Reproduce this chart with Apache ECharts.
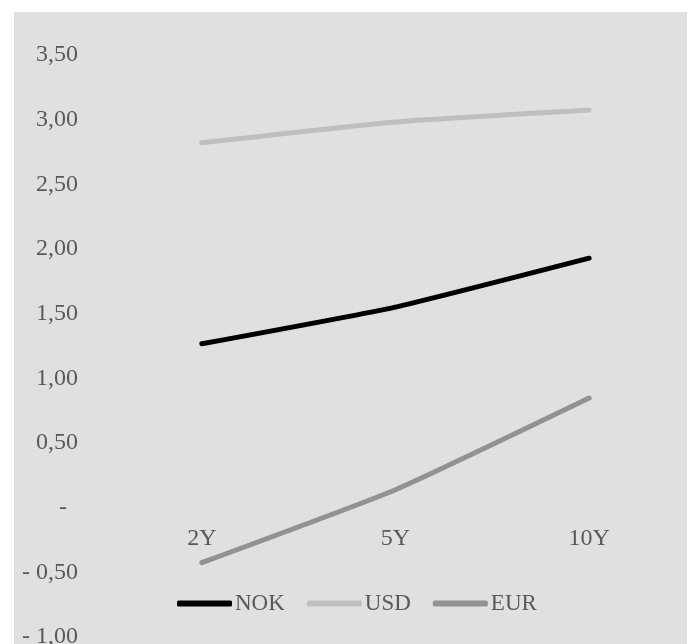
<!DOCTYPE html>
<html>
<head>
<meta charset="utf-8">
<script src="https://cdn.jsdelivr.net/npm/echarts@6/dist/echarts.min.js"></script>
<style>
html,body{margin:0;padding:0;background:#ffffff;}
#chart{width:693px;height:644px;}
</style>
</head>
<body>
<div id="chart"></div>
<script>
const categories = ['2Y', '5Y', '10Y'];
const seriesNames = ['NOK', 'USD', 'EUR'];
const nokValues = [1.267, 1.551, 1.929];
const usdValues = [2.822, 2.982, 3.075];
const eurValues = [-0.425, 0.139, 0.848];
const yTickValues = [-1, -0.5, 0, 0.5, 1, 1.5, 2, 2.5, 3, 3.5];
const yTickLabels = ['- 1,00', '- 0,50', '-', '0,50', '1,00', '1,50', '2,00', '2,50', '3,00', '3,50'];

const FONT = '"Liberation Serif", serif';
const FS = 24;
const TXT = '#595959';
const colors = ['#000000', '#bfbfbf', '#929292'];

const chart = echarts.init(document.getElementById('chart'), null, {renderer: 'canvas'});

function yLabel(v) {
  let idx = -1;
  for (let i = 0; i < yTickValues.length; i++) {
    if (Math.abs(yTickValues[i] - v) < 1e-6) idx = i;
  }
  if (idx < 0) return '';
  if (yTickValues[idx] === 0) return '{z|' + yTickLabels[idx] + '}';
  return yTickLabels[idx];
}

const values = [nokValues, usdValues, eurValues];

chart.setOption({
  animation: false,
  backgroundColor: '#ffffff',
  color: colors,
  graphic: [{
    type: 'rect',
    z: -10,
    silent: true,
    shape: {x: 14, y: 12, width: 673, height: 640},
    style: {fill: '#e0e0e0'}
  }],
  grid: {left: 105, right: 7, top: 55, bottom: 7, containLabel: false, outerBoundsMode: 'none'},
  legend: {
    data: seriesNames,
    left: 172,
    top: 587,
    itemWidth: 55,
    itemHeight: 6,
    itemGap: 22,
    icon: 'roundRect',
    textStyle: {fontFamily: FONT, fontSize: 23, color: TXT, padding: [0, 0, 0, -2]}
  },
  xAxis: {
    type: 'category',
    data: categories,
    boundaryGap: true,
    position: 'bottom',
    offset: 0,
    axisLine: {show: false, onZero: false},
    axisTick: {show: false},
    splitLine: {show: false},
    axisLabel: {fontFamily: FONT, fontSize: FS, color: TXT, margin: 19}
  },
  yAxis: {
    type: 'value',
    min: -1,
    max: 3.5,
    interval: 0.5,
    axisLine: {show: false},
    axisTick: {show: false},
    splitLine: {show: false},
    axisLabel: {
      fontFamily: FONT,
      fontSize: FS,
      color: TXT,
      margin: 27,
      formatter: yLabel,
      rich: {
        z: {fontFamily: FONT, fontSize: FS, color: TXT, padding: [0, 11, 0, 0]}
      }
    }
  },
  series: seriesNames.map((name, i) => ({
    name: name,
    type: 'line',
    data: values[i],
    symbol: 'none',
    smooth: 0.15,
    lineStyle: {width: 5, color: colors[i], cap: 'round', join: 'round'},
    itemStyle: {color: colors[i]}
  }))
});

// Place the category axis on the zero line of the value axis (as the reference does)
const yZero = chart.convertToPixel({yAxisIndex: 0}, 0);
const yMin = chart.convertToPixel({yAxisIndex: 0}, yTickValues[0]);
chart.setOption({xAxis: {offset: -(yMin - yZero)}});
</script>
</body>
</html>
